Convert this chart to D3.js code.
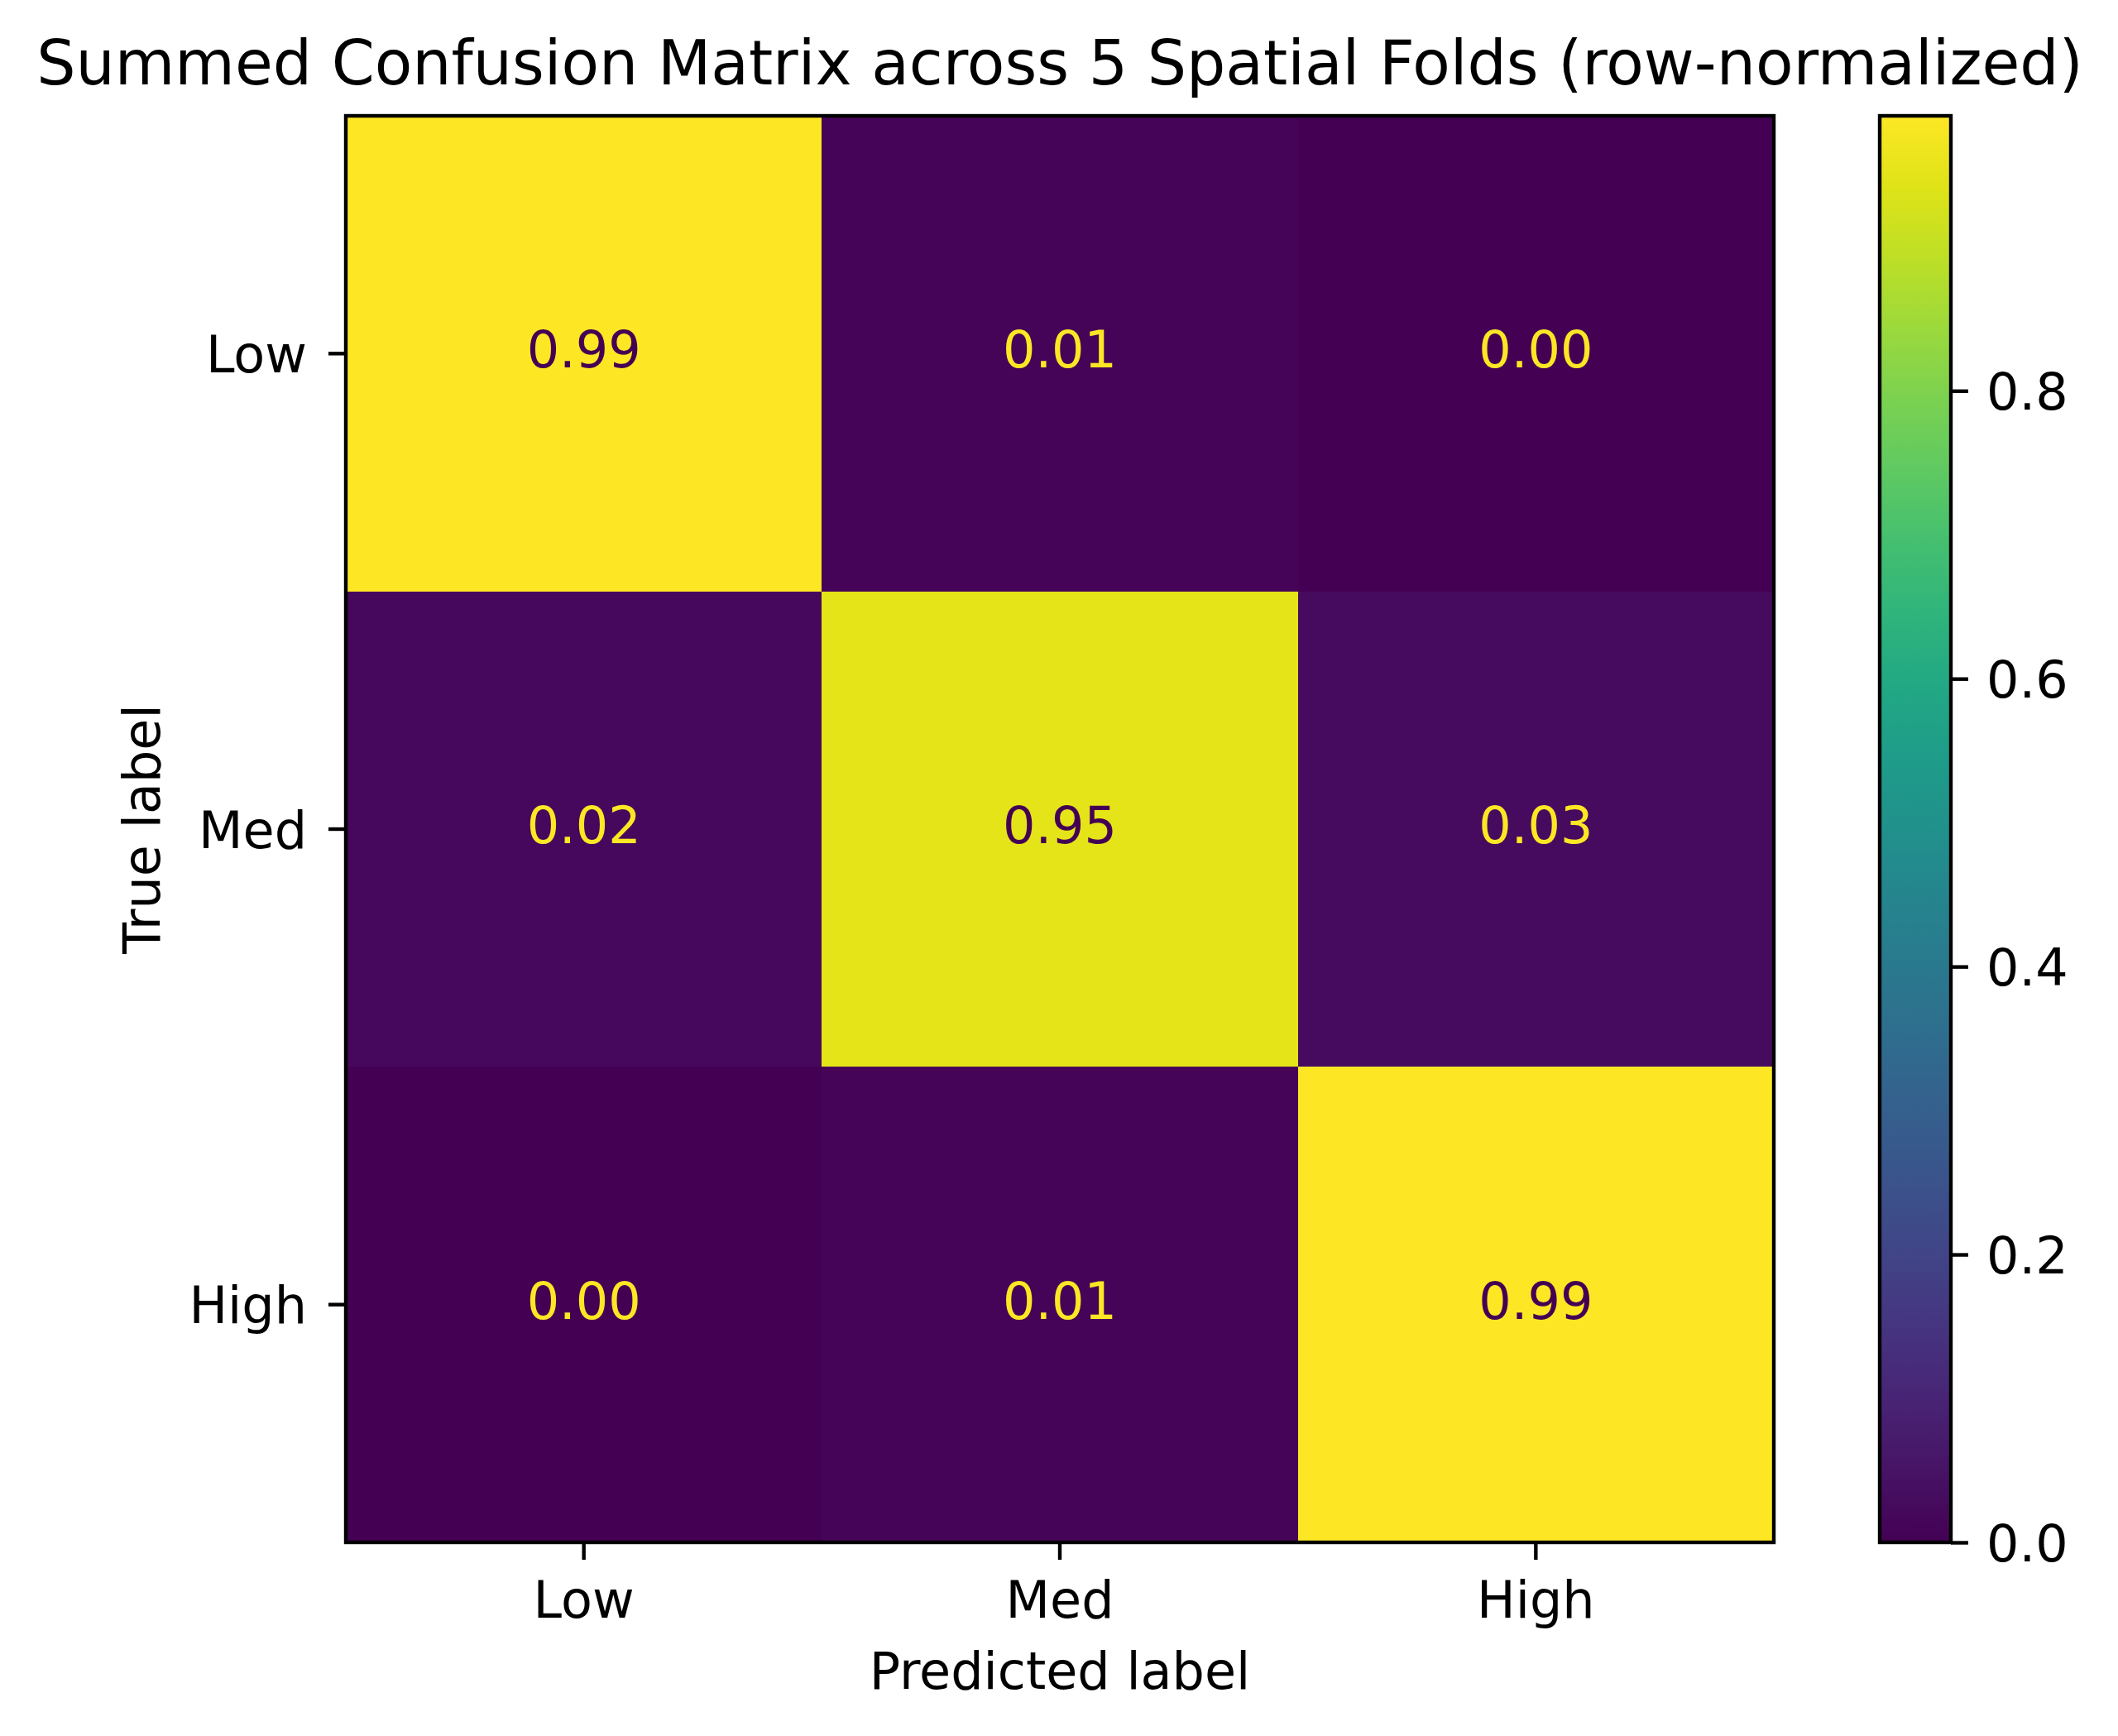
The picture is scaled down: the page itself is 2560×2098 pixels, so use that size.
<!DOCTYPE html>
<html>
<head>
<meta charset="utf-8">
<script src="https://cdn.jsdelivr.net/npm/d3@7"></script>
<style>
  body { margin: 0; background: #fff; }
  svg text { font-family: "DejaVu Sans", sans-serif; fill: #000; }
  .tick line { stroke: #000; stroke-width: 4.4; }
</style>
</head>
<body>
<svg id="chart"></svg>
<script>
const labels = ['Low', 'Med', 'High'];
// rows = true label, columns = predicted label
const lowRow = [0.991, 0.009, 0.000];
const medRow = [0.021, 0.951, 0.028];
const highRow = [0.001, 0.011, 0.988];
const cbarTicks = [0, 0.2, 0.4, 0.6, 0.8];

const width = 2560, height = 2098;
const fontSize = 62;
const plot = { left: 418, right: 2144, top: 140, bottom: 1864 };
const cbar = { left: 2272, right: 2358 };

const rows = [lowRow, medRow, highRow];
const cells = rows.flatMap((r, i) => r.map((v, j) => ({ row: labels[i], col: labels[j], v })));
const vmin = d3.min(cells, d => d.v);
const vmax = d3.max(cells, d => d.v);
const thresh = (vmin + vmax) / 2;

const color = d3.scaleSequential(d3.interpolateViridis).domain([vmin, vmax]);
const x = d3.scaleBand().domain(labels).range([plot.left, plot.right]);
const y = d3.scaleBand().domain(labels).range([plot.top, plot.bottom]);

const svg = d3.select('#chart')
  .attr('width', width)
  .attr('height', height)
  .attr('viewBox', [0, 0, width, height].join(' '));

// heatmap cells
svg.append('g')
  .selectAll('rect')
  .data(cells)
  .join('rect')
  .attr('x', d => x(d.col))
  .attr('y', d => y(d.row))
  .attr('width', x.bandwidth())
  .attr('height', y.bandwidth())
  .attr('fill', d => color(d.v))
  .attr('shape-rendering', 'crispEdges');

// cell annotations
svg.append('g')
  .selectAll('text')
  .data(cells)
  .join('text')
  .attr('x', d => x(d.col) + x.bandwidth() / 2)
  .attr('y', d => y(d.row) + y.bandwidth() / 2 + 17)
  .attr('text-anchor', 'middle')
  .style('font-size', fontSize + 'px')
  .style('fill', d => d.v < thresh ? d3.interpolateViridis(1) : d3.interpolateViridis(0))
  .text(d => d3.format('.2f')(d.v));

// axes
const xAxis = svg.append('g')
  .attr('transform', `translate(0,${plot.bottom})`)
  .call(d3.axisBottom(x).tickSize(21).tickSizeOuter(0).tickPadding(26));
xAxis.select('.domain').remove();
xAxis.selectAll('text').style('font-size', fontSize + 'px').attr('fill', null);

const yAxis = svg.append('g')
  .attr('transform', `translate(${plot.left},0)`)
  .call(d3.axisLeft(y).tickSize(21).tickSizeOuter(0).tickPadding(26));
yAxis.select('.domain').remove();
yAxis.selectAll('text').style('font-size', fontSize + 'px').attr('dy', '0.365em').attr('fill', null);

svg.append('rect')
  .attr('x', plot.left).attr('y', plot.top)
  .attr('width', plot.right - plot.left)
  .attr('height', plot.bottom - plot.top)
  .attr('fill', 'none')
  .attr('stroke', '#000')
  .attr('stroke-width', 4.4);

// colorbar
const grad = svg.append('defs').append('linearGradient')
  .attr('id', 'viridis')
  .attr('x1', 0).attr('y1', 1).attr('x2', 0).attr('y2', 0);
grad.selectAll('stop')
  .data(d3.range(0, 1.0001, 0.05))
  .join('stop')
  .attr('offset', d => d)
  .attr('stop-color', d => d3.interpolateViridis(d));

svg.append('rect')
  .attr('x', cbar.left).attr('y', plot.top)
  .attr('width', cbar.right - cbar.left)
  .attr('height', plot.bottom - plot.top)
  .attr('fill', 'url(#viridis)');

const cy = d3.scaleLinear().domain([vmin, vmax]).range([plot.bottom, plot.top]);
const cAxis = svg.append('g')
  .attr('transform', `translate(${cbar.right},0)`)
  .call(d3.axisRight(cy).tickValues(cbarTicks).tickFormat(d3.format('.1f'))
    .tickSize(21).tickSizeOuter(0).tickPadding(22));
cAxis.select('.domain').remove();
cAxis.selectAll('text').style('font-size', fontSize + 'px').attr('dy', '0.365em').attr('fill', null);

svg.append('rect')
  .attr('x', cbar.left).attr('y', plot.top)
  .attr('width', cbar.right - cbar.left)
  .attr('height', plot.bottom - plot.top)
  .attr('fill', 'none')
  .attr('stroke', '#000')
  .attr('stroke-width', 4.4);

// labels
svg.append('text')
  .attr('x', (plot.left + plot.right) / 2)
  .attr('y', 102)
  .attr('text-anchor', 'middle')
  .style('font-size', '74.5px')
  .text('Summed Confusion Matrix across 5 Spatial Folds (row-normalized)');

svg.append('text')
  .attr('x', (plot.left + plot.right) / 2)
  .attr('y', 2041)
  .attr('text-anchor', 'middle')
  .style('font-size', fontSize + 'px')
  .text('Predicted label');

svg.append('text')
  .attr('transform', `translate(193,${(plot.top + plot.bottom) / 2}) rotate(-90)`)
  .attr('text-anchor', 'middle')
  .style('font-size', fontSize + 'px')
  .text('True label');
</script>
</body>
</html>
